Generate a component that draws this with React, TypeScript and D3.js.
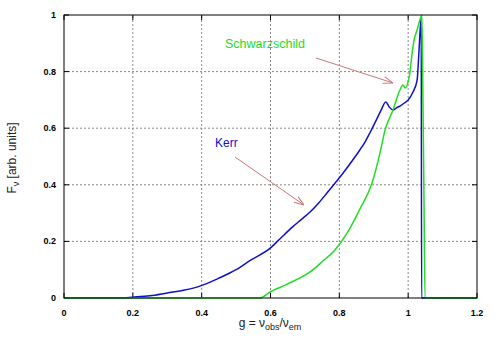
import React from "react";
import * as d3 from "d3";

// Kerr line profile (g, F)
const gKerr = [0, 0.163, 0.2, 0.25, 0.3, 0.35, 0.395, 0.45, 0.5, 0.54, 0.6, 0.63, 0.665, 0.69, 0.715, 0.74, 0.764, 0.79, 0.81, 0.837, 0.86, 0.875, 0.889, 0.905, 0.92, 0.935, 0.945, 0.956, 0.966, 0.976, 0.99, 1.0, 1.014, 1.026, 1.03, 1.034, 1.038, 1.039, 1.2];
const fKerr = [0, 0, 0.003, 0.008, 0.018, 0.028, 0.042, 0.07, 0.1, 0.132, 0.177, 0.212, 0.252, 0.278, 0.304, 0.336, 0.371, 0.41, 0.44, 0.484, 0.524, 0.552, 0.584, 0.623, 0.66, 0.693, 0.675, 0.664, 0.672, 0.678, 0.69, 0.7, 0.728, 0.77, 0.84, 0.93, 0.99, 0, 0];

// Schwarzschild line profile (g, F)
const gSchw = [0, 0.569, 0.6, 0.65, 0.715, 0.75, 0.787, 0.831, 0.86, 0.895, 0.918, 0.933, 0.956, 0.976, 0.985, 0.991, 0.999, 1.005, 1.011, 1.017, 1.026, 1.037, 1.04, 1.043, 1.046, 1.049, 1.2];
const fSchw = [0, 0, 0.022, 0.05, 0.092, 0.128, 0.17, 0.247, 0.315, 0.406, 0.512, 0.594, 0.664, 0.735, 0.753, 0.742, 0.76, 0.795, 0.86, 0.91, 0.947, 0.993, 1.0, 0.7, 0.35, 0, 0];

const xTicks = [0, 0.2, 0.4, 0.6, 0.8, 1, 1.2];
const yTicks = [0, 0.2, 0.4, 0.6, 0.8, 1];

const font = "'Liberation Sans', Arial, Helvetica, sans-serif";

export default function App() {
  const x = d3.scaleLinear().domain([0, 1.2]).range([64, 477]);
  const y = d3.scaleLinear().domain([0, 1]).range([298, 15]);

  const makePath = (gs: number[], fs: number[]) =>
    d3
      .line<[number, number]>()
      .x((d) => x(d[0]))
      .y((d) => y(d[1]))
      .curve(d3.curveMonotoneX)(gs.map((g, i) => [g, fs[i]]));

  const arrowColor = "#c87878";

  return (
    <svg
      width={498}
      height={349}
      style={{ position: "absolute", left: 0, top: 0, background: "#fff" }}
      fontFamily={font}
    >
      <defs>
        <marker id="head" viewBox="0 0 10 10" refX={10} refY={5} markerWidth={10} markerHeight={10} orient="auto" markerUnits="userSpaceOnUse">
          <path d="M0,1.5 L10,5 L0,8.5" fill="none" stroke={arrowColor} strokeWidth={1} />
        </marker>
      </defs>

      {/* grid */}
      {xTicks.slice(1, -1).map((t) => (
        <line key={"gx" + t} x1={x(t)} x2={x(t)} y1={y(0)} y2={y(1)} stroke="#888" strokeWidth={1} strokeDasharray="2,2" />
      ))}
      {yTicks.slice(1, -1).map((t) => (
        <line key={"gy" + t} x1={x(0)} x2={x(1.2)} y1={y(t)} y2={y(t)} stroke="#888" strokeWidth={1} strokeDasharray="2,2" />
      ))}

      {/* ticks, mirrored */}
      {xTicks.map((t) => (
        <g key={"tx" + t}>
          <line x1={x(t)} x2={x(t)} y1={y(0)} y2={y(0) - 5} stroke="#000" />
          <line x1={x(t)} x2={x(t)} y1={y(1)} y2={y(1) + 5} stroke="#000" />
          <text x={x(t)} y={y(0) + 18} fontSize={9} fontWeight="bold" textAnchor="middle">
            {t}
          </text>
        </g>
      ))}
      {yTicks.map((t) => (
        <g key={"ty" + t}>
          <line x1={x(0)} x2={x(0) + 5} y1={y(t)} y2={y(t)} stroke="#000" />
          <line x1={x(1.2)} x2={x(1.2) - 5} y1={y(t)} y2={y(t)} stroke="#000" />
          <text x={x(0) - 8} y={y(t) + 3} fontSize={9} fontWeight="bold" textAnchor="end">
            {t}
          </text>
        </g>
      ))}

      {/* curves */}
      <path d={makePath(gKerr, fKerr) || ""} fill="none" stroke="#1010c8" strokeWidth={1.5} />
      <path d={makePath(gSchw, fSchw) || ""} fill="none" stroke="#22dd22" strokeWidth={1.5} />

      {/* frame */}
      <rect x={x(0)} y={y(1)} width={x(1.2) - x(0)} height={y(0) - y(1)} fill="none" stroke="#000" strokeWidth={1} />

      {/* labels & arrows */}
      <text x={215} y={147} fontSize={12} fill="#1010c8">Kerr</text>
      <line x1={235} y1={157} x2={304} y2={205} stroke={arrowColor} strokeWidth={1} markerEnd="url(#head)" />
      <text x={225} y={48} fontSize={12.5} fill="#22dd22">Schwarzschild</text>
      <line x1={316} y1={58} x2={393} y2={83} stroke={arrowColor} strokeWidth={1} markerEnd="url(#head)" />

      {/* axis titles */}
      <text transform="translate(16,158) rotate(-90)" fontSize={12} textAnchor="middle" fill="#222">
        F<tspan fontSize={9} dy={3}>ν</tspan>
        <tspan dy={-3}> [arb. units]</tspan>
      </text>
      <text x={270} y={327} fontSize={12} textAnchor="middle" fill="#222">
        g = ν<tspan fontSize={9} dy={3}>obs</tspan>
        <tspan dy={-3}>/ν</tspan>
        <tspan fontSize={9} dy={3}>em</tspan>
      </text>
    </svg>
  );
}
